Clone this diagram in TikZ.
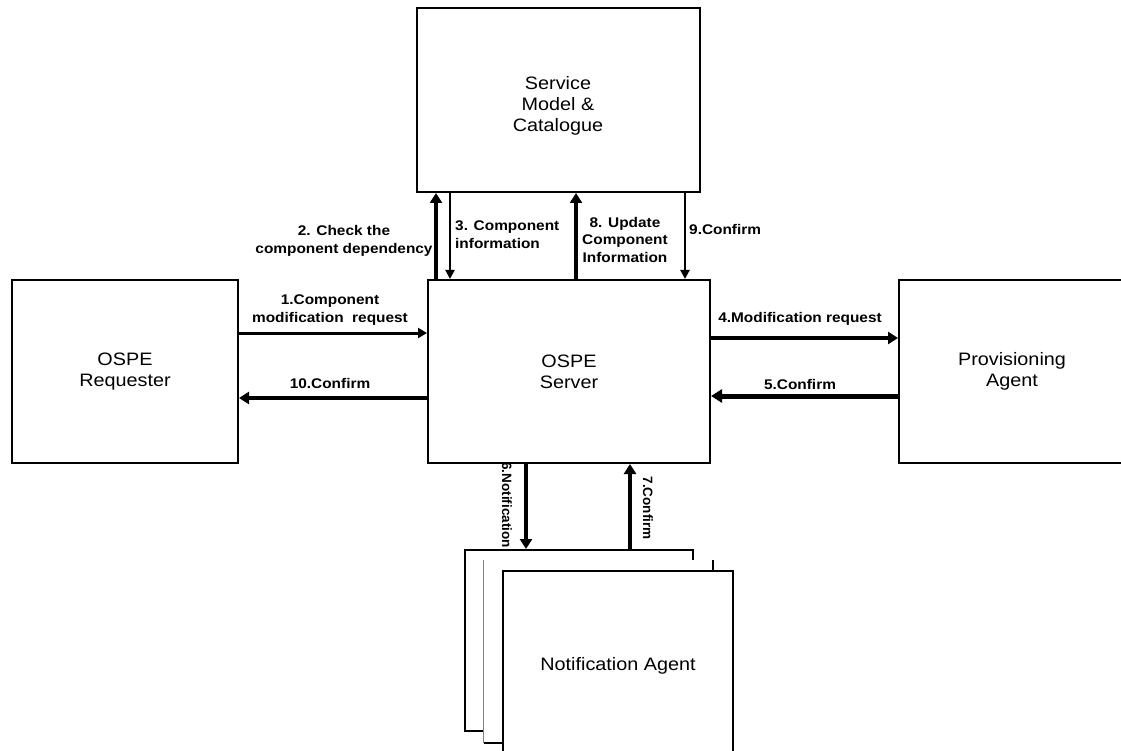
\documentclass[tikz,border=0pt]{standalone}
\usepackage{fontspec}
\setmainfont{Liberation Sans}
\newfontfamily\boxfont[FakeStretch=1.1]{Liberation Sans}
\newfontfamily\lblfont[FakeStretch=1.1]{Liberation Sans}
\usetikzlibrary{arrows.meta}
\begin{document}
\begin{tikzpicture}[x=1pt,y=-1pt,
  box/.style={draw, line width=2pt, fill=white, inner sep=0pt, align=center,
    font=\fontsize{18}{21}\selectfont\boxfont},
  boxtext/.style={inner sep=0pt, align=center, font=\fontsize{18}{21}\selectfont\boxfont},
  lbl/.style={inner sep=0pt, font=\fontsize{14}{17.5}\selectfont\lblfont\bfseries},
  vlbl/.style={inner sep=0pt, rotate=-90, font=\fontsize{13.5}{16}\selectfont\bfseries},
  thickarr/.style={line width=4pt, -{Triangle[length=10pt,width=12pt]}},
  midarr/.style={line width=3pt, -{Triangle[length=9pt,width=10pt]}},
  thinarr/.style={line width=2pt, -{Triangle[length=9pt,width=9pt]}}]
\useasboundingbox (0,0) rectangle (1121,751);
\fill[white] (0,0) rectangle (1121,751);
\clip (0,0) rectangle (1121,751);

% boxes
\node[box, minimum width=283pt, minimum height=184pt] (svc) at (558.5,100) {};
\node[boxtext] (svct) at (558,106) {Service\\Model \&\\Catalogue};
\node[box, minimum width=282pt, minimum height=183pt] (srv) at (569,371.5) {OSPE\\Server};
\node[box, minimum width=226pt, minimum height=183pt] (req) at (125,371.5) {OSPE\\Requester};
\node[box, minimum width=226pt, minimum height=183pt] (prov) at (1012,371.5) {Provisioning\\Agent};

% stacked notification agents
\node[box, minimum width=228pt, minimum height=181pt] (na1) at (579,640.5) {};
\node[fill=white, inner sep=0pt, minimum width=229pt, minimum height=183pt] (na2) at (598.5,651.5) {};
\draw[gray, line width=1pt] (na2.north west) -- (na2.south west);
\draw[line width=2pt] (na2.south west) -- (na2.south east) -- (na2.north east);
\node[box, minimum width=230pt, minimum height=189pt] (na3) at (618,665.5) {Notification Agent};

% connectors server <-> service model
\draw[thickarr] ([xshift=9pt]srv.north west) -- ([xshift=20pt]svc.south west);
\draw[thinarr] ([xshift=34pt]svc.south west) -- ([xshift=23pt]srv.north west);
\draw[thickarr] ([xshift=149pt]srv.north west) -- ([xshift=160pt]svc.south west);
\draw[thinarr] ([xshift=269pt]svc.south west) -- ([xshift=258pt]srv.north west);

% requester <-> server
\draw[midarr] ([yshift=-54pt]req.north east) -- ([yshift=-54pt]srv.north west);
\draw[thickarr] ([yshift=-119pt]srv.north west) -- ([yshift=-119pt]req.north east);

% server <-> provisioning
\draw[thickarr] ([yshift=-59pt]srv.north east) -- ([yshift=-59pt]prov.north west);
\draw[line width=5pt, -{Triangle[length=11pt,width=13pt]}] ([yshift=-117pt]prov.north west) -- ([yshift=-117pt]srv.north east);

% server <-> notification agent
\draw[thickarr] ([xshift=99pt]srv.south west) -- ([xshift=62pt]na1.north west);
\draw[thickarr] ([xshift=166pt]na1.north west) -- ([xshift=203pt]srv.south west);

% labels
\node[lbl, align=center] (l2) at (344,241) {2. Check the\\component dependency};
\node[lbl, align=left, anchor=west] (l3) at (455,234.5) {3. Component\\information};
\node[lbl, align=center] (l8) at (625,239.5) {8. Update\\Component\\Information};
\node[lbl, anchor=west] (l9) at (689,229) {9.Confirm};
\node[lbl, align=center] (l1) at (330,310) {1.Component\\modification\ \ request};
\node[lbl] (l10) at (330,383) {10.Confirm};
\node[lbl] (l4) at (800,319) {4.Modification request};
\node[lbl] (l5) at (800,384) {5.Confirm};
\node[vlbl] (l6) at (507,505) {6.Notification};
\node[vlbl] (l7) at (648,508) {7.Confirm};
\end{tikzpicture}
\end{document}
